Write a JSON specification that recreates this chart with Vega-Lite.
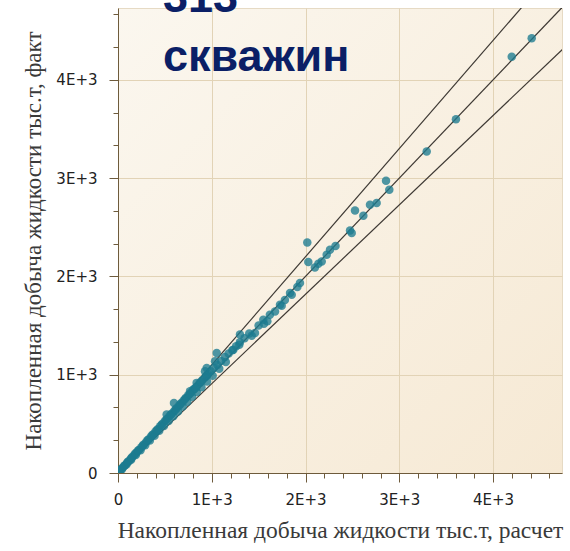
{
  "$schema": "https://vega.github.io/schema/vega-lite/v6.json",
  "width": 444,
  "height": 465,
  "autosize": {"type": "none"},
  "padding": {"left": 118, "top": 8, "right": 8, "bottom": 78},
  "background": "white",
  "config": {
    "view": {"fill": {"gradient": "linear", "x1": 0, "y1": 0, "x2": 1, "y2": 1, "stops": [{"offset": 0, "color": "#fbf7ef"}, {"offset": 1, "color": "#f6e9d4"}]}, "stroke": "#e6dac4", "strokeWidth": 1}
  },
  "title": {
    "text": ["313", "скважин"],
    "anchor": "start",
    "frame": "group",
    "orient": "top",
    "offset": 0,
    "dx": 45,
    "dy": 109,
    "baseline": "alphabetic",
    "lineHeight": 59,
    "fontSize": 45,
    "font": "Liberation Sans",
    "fontWeight": "bold",
    "color": "#0b1f66"
  },
  "datasets": {
    "lines": [
      {"s": "upper", "x": 0, "y": 0}, {"s": "upper", "x": 5000, "y": 5500},
      {"s": "center", "x": 0, "y": 0}, {"s": "center", "x": 5200, "y": 5200},
      {"s": "lower", "x": 0, "y": 0}, {"s": "lower", "x": 5500, "y": 5000}
    ],
    "wells": [
      {"calc": 4413, "fact": 4423}, {"calc": 4200, "fact": 4236}, {"calc": 3605, "fact": 3600}, {"calc": 3293, "fact": 3270},
      {"calc": 2859, "fact": 2973}, {"calc": 2894, "fact": 2881}, {"calc": 2688, "fact": 2729}, {"calc": 2759, "fact": 2746},
      {"calc": 2528, "fact": 2671}, {"calc": 2617, "fact": 2617}, {"calc": 2475, "fact": 2467}, {"calc": 2493, "fact": 2441},
      {"calc": 2019, "fact": 2346}, {"calc": 2030, "fact": 2146}, {"calc": 2261, "fact": 2271}, {"calc": 2226, "fact": 2220},
      {"calc": 2173, "fact": 2152}, {"calc": 2137, "fact": 2129}, {"calc": 1941, "fact": 1933}, {"calc": 1913, "fact": 1892},
      {"calc": 1853, "fact": 1814}, {"calc": 1835, "fact": 1831}, {"calc": 1746, "fact": 1702}, {"calc": 1728, "fact": 1712},
      {"calc": 1675, "fact": 1644}, {"calc": 1593, "fact": 1543}, {"calc": 1557, "fact": 1519}, {"calc": 1461, "fact": 1425},
      {"calc": 1426, "fact": 1397}, {"calc": 1301, "fact": 1408}, {"calc": 1294, "fact": 1306}, {"calc": 1230, "fact": 1255},
      {"calc": 1053, "fact": 1222}, {"calc": 1035, "fact": 1136}, {"calc": 946, "fact": 1069}, {"calc": 928, "fact": 1035},
      {"calc": 839, "fact": 917}, {"calc": 803, "fact": 849}, {"calc": 768, "fact": 831}, {"calc": 597, "fact": 713},
      {"calc": 519, "fact": 595},
      {"calc": 15, "fact": 18}, {"calc": 35, "fact": 40}, {"calc": 55, "fact": 58}, {"calc": 75, "fact": 80},
      {"calc": 95, "fact": 102}, {"calc": 115, "fact": 120}, {"calc": 135, "fact": 142}, {"calc": 155, "fact": 165},
      {"calc": 175, "fact": 185}, {"calc": 200, "fact": 212}, {"calc": 225, "fact": 236}, {"calc": 250, "fact": 262},
      {"calc": 275, "fact": 290}, {"calc": 300, "fact": 315}, {"calc": 325, "fact": 342}, {"calc": 350, "fact": 368},
      {"calc": 375, "fact": 395}, {"calc": 400, "fact": 422}, {"calc": 425, "fact": 448}, {"calc": 450, "fact": 475},
      {"calc": 475, "fact": 500}, {"calc": 500, "fact": 528}, {"calc": 525, "fact": 552}, {"calc": 550, "fact": 580},
      {"calc": 575, "fact": 605}, {"calc": 600, "fact": 632}, {"calc": 625, "fact": 660}, {"calc": 650, "fact": 685},
      {"calc": 675, "fact": 712}, {"calc": 700, "fact": 738}, {"calc": 725, "fact": 765}, {"calc": 750, "fact": 790},
      {"calc": 780, "fact": 820}, {"calc": 810, "fact": 850}, {"calc": 840, "fact": 880}, {"calc": 870, "fact": 912},
      {"calc": 900, "fact": 945}, {"calc": 930, "fact": 975}, {"calc": 960, "fact": 1005}, {"calc": 990, "fact": 1035},
      {"calc": 1020, "fact": 1068}, {"calc": 1060, "fact": 1100}, {"calc": 1100, "fact": 1140}, {"calc": 1140, "fact": 1180},
      {"calc": 1180, "fact": 1215}, {"calc": 1220, "fact": 1250}, {"calc": 1260, "fact": 1290}, {"calc": 1300, "fact": 1330},
      {"calc": 1350, "fact": 1370}, {"calc": 1400, "fact": 1420}, {"calc": 1500, "fact": 1500}, {"calc": 1550, "fact": 1560},
      {"calc": 1620, "fact": 1610}, {"calc": 1780, "fact": 1760}, {"calc": 2100, "fact": 2090}, {"calc": 2320, "fact": 2310},
      {"calc": 40, "fact": 36}, {"calc": 90, "fact": 86}, {"calc": 140, "fact": 136}, {"calc": 190, "fact": 184},
      {"calc": 240, "fact": 232}, {"calc": 290, "fact": 282}, {"calc": 340, "fact": 330}, {"calc": 390, "fact": 380},
      {"calc": 440, "fact": 430}, {"calc": 490, "fact": 478}, {"calc": 540, "fact": 528}, {"calc": 590, "fact": 578},
      {"calc": 640, "fact": 626}, {"calc": 690, "fact": 676}, {"calc": 740, "fact": 724}, {"calc": 790, "fact": 775},
      {"calc": 840, "fact": 824}, {"calc": 890, "fact": 872}, {"calc": 950, "fact": 930}, {"calc": 1010, "fact": 990},
      {"calc": 1080, "fact": 1060}, {"calc": 1150, "fact": 1130},
      {"calc": 25, "fact": 30}, {"calc": 65, "fact": 72}, {"calc": 105, "fact": 114}, {"calc": 145, "fact": 156},
      {"calc": 185, "fact": 198}, {"calc": 215, "fact": 228}, {"calc": 265, "fact": 280}, {"calc": 315, "fact": 333},
      {"calc": 365, "fact": 384}, {"calc": 415, "fact": 436}, {"calc": 465, "fact": 490}, {"calc": 515, "fact": 542},
      {"calc": 565, "fact": 594}, {"calc": 615, "fact": 646}, {"calc": 665, "fact": 700}, {"calc": 715, "fact": 752},
      {"calc": 765, "fact": 804}, {"calc": 825, "fact": 866}, {"calc": 885, "fact": 928}, {"calc": 945, "fact": 990}
    ]
  },
  "encoding": {
    "x": {
      "field": "calc", "type": "quantitative",
      "scale": {"domain": [0, 4736], "nice": false, "zero": true},
      "axis": {
        "title": "Накопленная добыча жидкости тыс.т, расчет",
        "titleFont": "Liberation Serif", "titleFontSize": 23.5, "titleFontWeight": "normal", "titleColor": "#3a3a3a", "titlePadding": 11,
        "values": [0, 200, 400, 600, 800, 1000, 1200, 1400, 1600, 1800, 2000, 2200, 2400, 2600, 2800, 3000, 3200, 3400, 3600, 3800, 4000, 4200, 4400, 4600],
        "labelExpr": "datum.value % 1000 === 0 ? (datum.value === 0 ? '0' : (datum.value / 1000) + 'E+3') : ''",
        "labelFont": "DejaVu Sans", "labelFontSize": 15, "labelColor": "#222222", "labelPadding": 10, "labelFlush": false, "labelOverlap": false,
        "tickSize": {"condition": {"test": "datum.value % 1000 === 0", "value": 9}, "value": 5},
        "tickColor": "#6e5b3c", "domainColor": "#6e5b3c",
        "gridColor": "#e2d3b6",
        "gridOpacity": {"condition": {"test": "datum.value % 1000 === 0", "value": 1}, "value": 0}
      }
    },
    "y": {
      "field": "fact", "type": "quantitative",
      "scale": {"domain": [0, 4731], "nice": false, "zero": true},
      "axis": {
        "title": "Накопленная добыча жидкости тыс.т, факт",
        "titleFont": "Liberation Serif", "titleFontSize": 23, "titleFontWeight": "normal", "titleColor": "#3a3a3a", "titlePadding": 10,
        "values": [0, 333.3, 666.7, 1000, 1333.3, 1666.7, 2000, 2333.3, 2666.7, 3000, 3333.3, 3666.7, 4000, 4333.3, 4666.7],
        "labelExpr": "datum.value % 1000 === 0 ? (datum.value === 0 ? '0' : (datum.value / 1000) + 'E+3') : ''",
        "labelFont": "DejaVu Sans", "labelFontSize": 15, "labelColor": "#222222", "labelPadding": 12, "labelFlush": false, "labelOverlap": false,
        "tickSize": {"condition": {"test": "datum.value % 1000 === 0", "value": 9}, "value": 5},
        "tickColor": "#6e5b3c", "domainColor": "#6e5b3c",
        "gridColor": "#e2d3b6",
        "gridOpacity": {"condition": {"test": "datum.value % 1000 === 0", "value": 1}, "value": 0}
      }
    }
  },
  "layer": [
    {
      "data": {"name": "lines"},
      "mark": {"type": "line", "clip": true, "color": "#3d3833", "strokeWidth": 1.2},
      "encoding": {
        "x": {"field": "x", "type": "quantitative"},
        "y": {"field": "y", "type": "quantitative"},
        "detail": {"field": "s"}
      }
    },
    {
      "data": {"name": "wells"},
      "mark": {"type": "circle", "size": 72, "color": "#1c7b90", "opacity": 0.78, "clip": true}
    }
  ]
}
